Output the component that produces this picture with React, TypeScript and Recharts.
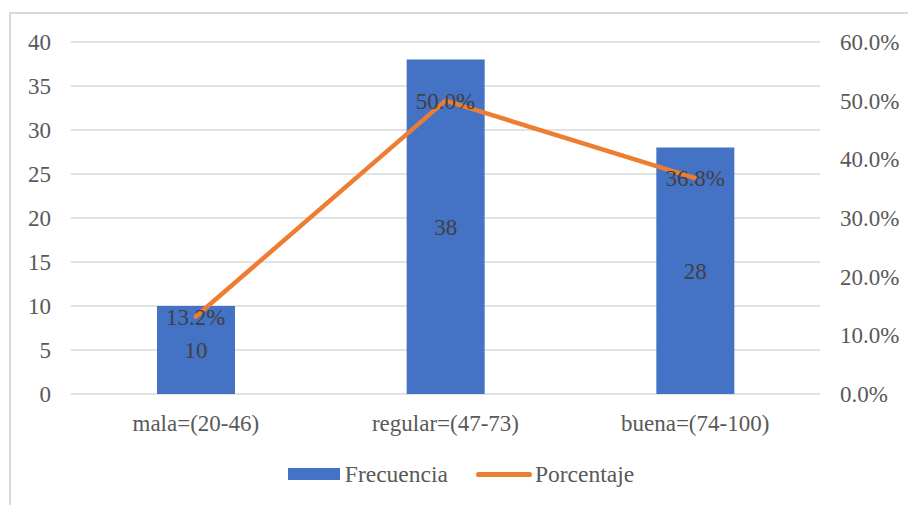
import React from "react";
import {
  ComposedChart,
  Bar,
  Line,
  XAxis,
  YAxis,
  CartesianGrid,
  Legend,
  LabelList,
} from "recharts";

const categories = ["mala=(20-46)", "regular=(47-73)", "buena=(74-100)"];
const frecuencia = [10, 38, 28];
const porcentaje = [0.132, 0.5, 0.368];
const leftTicks = [0, 5, 10, 15, 20, 25, 30, 35, 40];
const rightTicks = [0, 0.1, 0.2, 0.3, 0.4, 0.5, 0.6];

const data = categories.map((c, i) => ({
  name: c,
  Frecuencia: frecuencia[i],
  Porcentaje: porcentaje[i],
}));

const FONT = "'Liberation Serif', 'Times New Roman', serif";
const BLUE = "#4472C4";
const ORANGE = "#ED7D31";
const GRAY = "#595959";

const pct = (v: any) => `${(Number(v) * 100).toFixed(1)}%`;

const LegendContent = () => (
  <div
    style={{
      display: "flex",
      justifyContent: "center",
      alignItems: "center",
      height: 30,
      fontFamily: FONT,
      fontSize: 23.5,
      color: GRAY,
      paddingLeft: 14,
    }}
  >
    <span style={{ display: "inline-block", width: 52, height: 12, background: BLUE, marginRight: 5 }} />
    <span style={{ marginRight: 28 }}>Frecuencia</span>
    <span
      style={{
        display: "inline-block",
        width: 56,
        height: 5,
        borderRadius: 3,
        background: ORANGE,
        marginRight: 3,
      }}
    />
    <span>Porcentaje</span>
  </div>
);

export default function App() {
  return (
    <div
      style={{
        position: "fixed",
        left: 0,
        top: 0,
        width: 908,
        height: 505,
        overflow: "hidden",
        background: "#fff",
      }}
    >
      <div
        style={{
          position: "absolute",
          left: 9,
          top: 12,
          width: 920,
          height: 520,
          border: "2px solid #d9d9d9",
          boxSizing: "border-box",
        }}
      />
      <div style={{ position: "absolute", left: 0, top: 0 }}>
        <ComposedChart
          width={908}
          height={505}
          data={data}
          margin={{ top: 42, right: 8, bottom: 41, left: 11 }}
          barCategoryGap="34%"
          style={{ fontFamily: FONT }}
        >
          <CartesianGrid horizontal vertical={false} stroke="#d9d9d9" strokeWidth={1.5} yAxisId="left" />
          <XAxis
            dataKey="name"
            axisLine={false}
            tickLine={false}
            tickSize={0}
            tickMargin={21}
            height={40}
            tick={{ fill: GRAY, fontSize: 23, fontFamily: FONT }}
          />
          <YAxis
            yAxisId="left"
            orientation="left"
            domain={[0, 40]}
            ticks={leftTicks}
            axisLine={false}
            tickLine={false}
            tickSize={0}
            tickMargin={20}
            width={60}
            tick={{ fill: GRAY, fontSize: 23, fontFamily: FONT }}
          />
          <YAxis
            yAxisId="right"
            orientation="right"
            domain={[0, 0.6]}
            ticks={rightTicks}
            tickFormatter={pct}
            axisLine={false}
            tickLine={false}
            tickSize={0}
            tickMargin={20}
            width={80}
            tick={{ fill: GRAY, fontSize: 23, fontFamily: FONT, textAnchor: "start" }}
          />
          <Legend
            verticalAlign="bottom"
            content={<LegendContent />}
            wrapperStyle={{ top: 459, left: 0, width: 908, height: 30 }}
          />
          <Bar yAxisId="left" dataKey="Frecuencia" fill={BLUE} barSize={78} isAnimationActive={false}>
            <LabelList dataKey="Frecuencia" position="center" fill="#404040" fontSize={23} fontFamily={FONT} />
          </Bar>
          <Line
            yAxisId="right"
            type="linear"
            dataKey="Porcentaje"
            stroke={ORANGE}
            strokeWidth={4.5}
            strokeLinecap="round"
            dot={false}
            activeDot={false}
            isAnimationActive={false}
          >
            <LabelList
              dataKey="Porcentaje"
              position="center"
              formatter={pct}
              fill="#404040"
              fontSize={23}
              fontFamily={FONT}
            />
          </Line>
        </ComposedChart>
      </div>
    </div>
  );
}
